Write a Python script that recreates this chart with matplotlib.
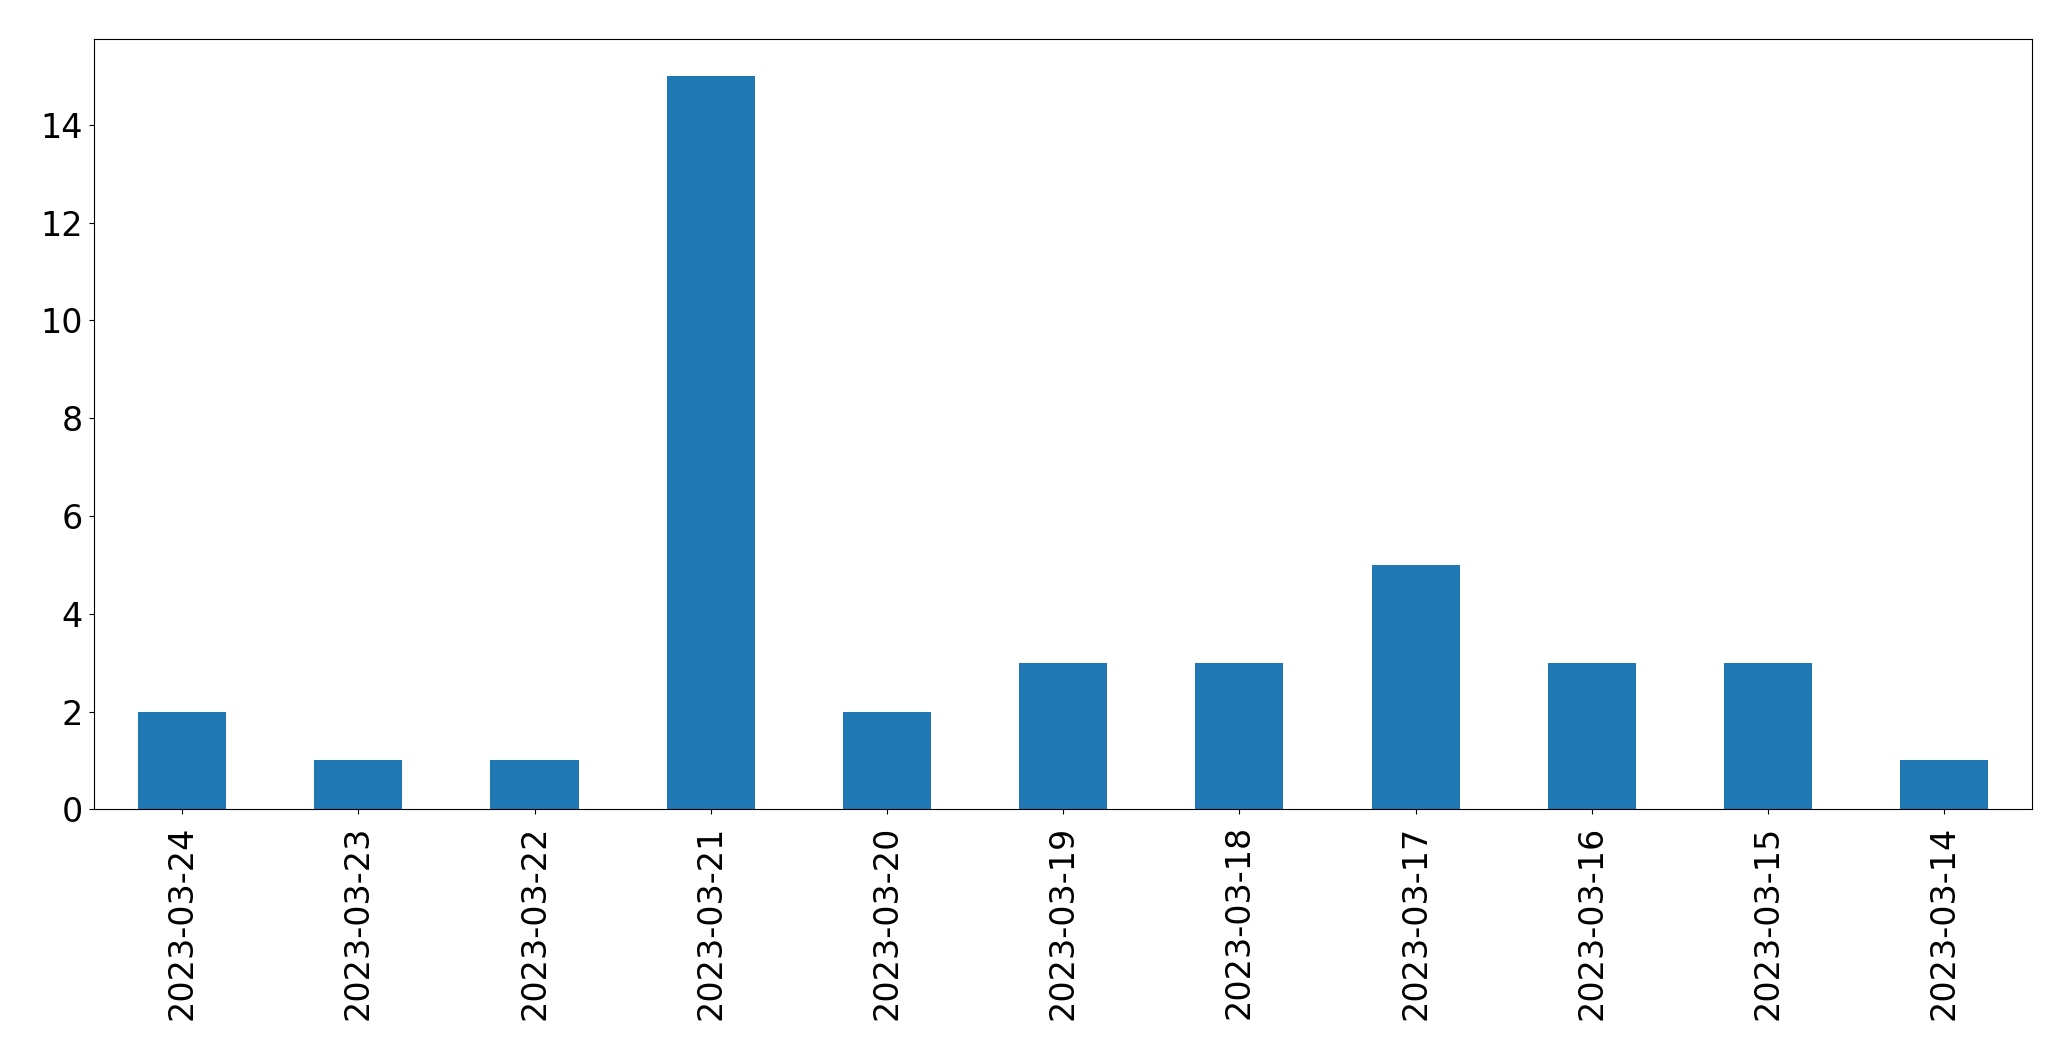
import matplotlib
matplotlib.use("Agg")
import matplotlib.pyplot as plt
import pandas as pd

dates = ["2023-03-24", "2023-03-23", "2023-03-22", "2023-03-21", "2023-03-20", "2023-03-19",
         "2023-03-18", "2023-03-17", "2023-03-16", "2023-03-15", "2023-03-14"]
counts = [2, 1, 1, 15, 2, 3, 3, 5, 3, 3, 1]

s = pd.Series(counts, index=dates)

fig = plt.figure(figsize=(20.71, 10.61), dpi=100)
ax = fig.add_axes([0.0454, 0.2372, 0.9359, 0.7257])
s.plot(kind="bar", ax=ax, color="#1f77b4", fontsize=24)
ax.tick_params(axis="x", labelrotation=90, pad=8)
ax.tick_params(axis="y", pad=4.5)

fig.savefig("out.png", dpi=100)
